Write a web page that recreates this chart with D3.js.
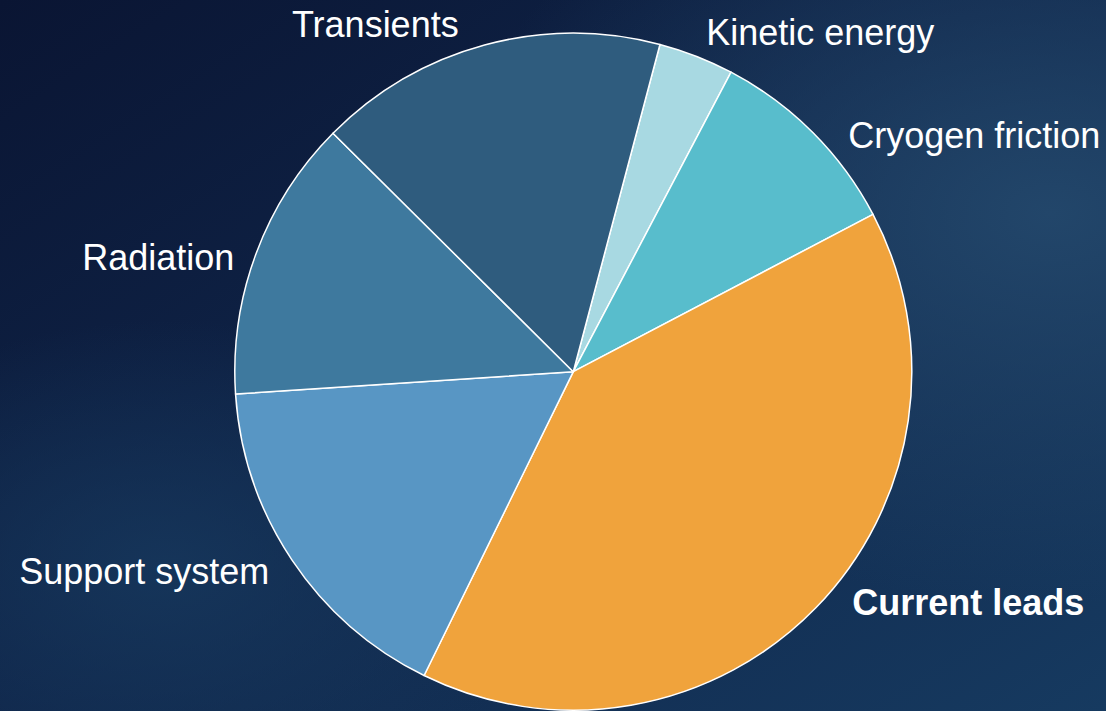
<!DOCTYPE html>
<html>
<head>
<meta charset="utf-8">
<script src="https://cdn.jsdelivr.net/npm/d3@7"></script>
<style>
  html, body { margin: 0; padding: 0; background: #0b1736; }
  svg { display: block; }
</style>
</head>
<body>
<div id="chart"></div>
<script>
// Heat load shares (%), clockwise from the first slice
var categories = ["Kinetic energy", "Cryogen friction", "Current leads", "Support system", "Radiation", "Transients"];
var values = [3.6, 9.6, 40.0, 16.7, 13.5, 16.7];
var colors = ["#a8d9e2", "#58bdcc", "#f0a33c", "#5896c4", "#3e799e", "#2f5c7e"];

// label anchors, relative to pie centre (layout only)
var labelPos = [[247, -327], [401, -224], [395, 243], [-429, 212], [-415, -102], [-198, -335]];
var boldLabel = "Current leads";

var svgWidth = 1106;
var svgHeight = 711;
var cx = 573.3, cy = 371.7;
var radius = 338.5;

var svg = d3.select("#chart")
  .append("svg")
  .attr("width", svgWidth)
  .attr("height", svgHeight);

// background gradients
var defs = svg.append("defs");

var bg = defs.append("linearGradient")
  .attr("id", "bg")
  .attr("x1", "0%").attr("y1", "0%")
  .attr("x2", "100%").attr("y2", "100%");
bg.append("stop").attr("offset", "0%").attr("stop-color", "#0a1533");
bg.append("stop").attr("offset", "45%").attr("stop-color", "#0f2448");
bg.append("stop").attr("offset", "100%").attr("stop-color", "#163a60");

var glow = defs.append("radialGradient")
  .attr("id", "glow")
  .attr("cx", "95%").attr("cy", "30%").attr("r", "55%");
glow.append("stop").attr("offset", "0%").attr("stop-color", "#24496d").attr("stop-opacity", 0.9);
glow.append("stop").attr("offset", "100%").attr("stop-color", "#24496d").attr("stop-opacity", 0);

var glow2 = defs.append("radialGradient")
  .attr("id", "glow2")
  .attr("cx", "15%").attr("cy", "80%").attr("r", "35%");
glow2.append("stop").attr("offset", "0%").attr("stop-color", "#17395e").attr("stop-opacity", 0.8);
glow2.append("stop").attr("offset", "100%").attr("stop-color", "#17395e").attr("stop-opacity", 0);

svg.append("rect").attr("width", svgWidth).attr("height", svgHeight).attr("fill", "url(#bg)");
svg.append("rect").attr("width", svgWidth).attr("height", svgHeight).attr("fill", "url(#glow)");
svg.append("rect").attr("width", svgWidth).attr("height", svgHeight).attr("fill", "url(#glow2)");

var data = categories.map(function(c, i) {
  return { name: c, value: values[i], color: colors[i], pos: labelPos[i] };
});

var pie = d3.pie()
  .sort(null)
  .value(function(d) { return d.value; })
  .startAngle(14.83 * Math.PI / 180)
  .endAngle((14.83 + 360) * Math.PI / 180);

var arc = d3.arc()
  .innerRadius(0)
  .outerRadius(radius);

var chartGroup = svg.append("g")
  .attr("transform", `translate(${cx}, ${cy})`);

chartGroup.selectAll("path")
  .data(pie(data))
  .enter()
  .append("path")
  .attr("d", arc)
  .attr("fill", function(d) { return d.data.color; })
  .attr("stroke", "#ffffff")
  .attr("stroke-width", 1.5)
  .attr("stroke-linejoin", "round");

chartGroup.selectAll(".label")
  .data(data)
  .enter()
  .append("text")
  .attr("class", "label")
  .attr("x", function(d) { return d.pos[0]; })
  .attr("y", function(d) { return d.pos[1]; })
  .attr("text-anchor", "middle")
  .attr("font-family", "'Liberation Sans', Arial, sans-serif")
  .attr("font-size", "36px")
  .attr("font-weight", function(d) { return d.name === boldLabel ? "bold" : "normal"; })
  .attr("fill", "#ffffff")
  .text(function(d) { return d.name; });
</script>
</body>
</html>
